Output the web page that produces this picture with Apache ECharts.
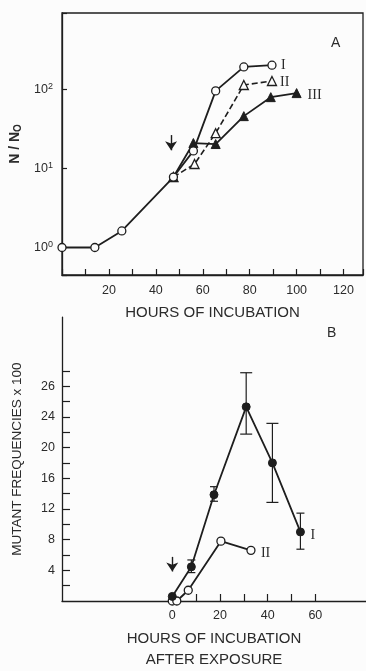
<!DOCTYPE html>
<html><head><meta charset="utf-8">
<script src="https://cdn.jsdelivr.net/npm/echarts@6/dist/echarts.min.js"></script>
<style>html,body{margin:0;padding:0;background:#fcfcfc;} #c{width:366px;height:671px;}</style>
</head><body><div id="c"></div>
<script>
// ---------- Panel A data ----------
const hoursA_I   = [0, 14, 25.5, 47.5, 56, 65.5, 77.5, 89.5];
const ratioA_I   = [1, 1, 1.62, 7.8, 16.7, 96, 193, 203];
const hoursA_II  = [47.5, 56.5, 65.5, 77.5, 89.5];
const ratioA_II  = [7.8, 11.4, 28, 114, 128];
const hoursA_III = [47.5, 56, 65.5, 77.5, 89, 100];
const ratioA_III = [7.8, 21, 20.4, 46, 80, 90];
const xLabelsA = [20, 40, 60, 80, 100, 120];
// ---------- Panel B data ----------
const hoursB_I    = [0, 8, 17.5, 31, 42, 53.75];
const freqB_I     = [0.6, 4.45, 13.85, 25.3, 18, 9.0];
const freqB_I_low = [null, 3.7, 13.0, 21.75, 12.85, 6.75];
const freqB_I_high= [null, 5.35, 14.9, 29.75, 23.15, 11.45];
const hoursB_II   = [0, 1.9, 6.7, 20.4, 33];
const freqB_II    = [0, 0, 1.4, 7.8, 6.6];
const yTickValuesB = [4, 8, 12, 16, 20, 24, 28];
const yTickLabelsB = ['4', '8', '12', '16', '20', '24', '26'];
const yMinorTicksB = [2, 4, 6, 8, 10, 12, 14, 16, 18, 20, 22, 24, 26, 28, 30];
const xTicksB  = [0, 10, 20, 30, 40, 50, 60];
const xLabelsB = [0, 20, 40, 60];

const ink = '#1e1e1e', txt = '#2b2b2b';
const font = 'Liberation Sans, Arial, sans-serif';
const serif = 'Liberation Serif, DejaVu Serif, serif';
const zip = (a, b) => a.map((v, i) => [v, b[i]]);

const errData = hoursB_I.map((x, i) => [x, freqB_I_low[i], freqB_I_high[i]]).filter(d => d[1] != null);

const chart = echarts.init(document.getElementById('c'), null, {renderer: 'canvas'});
chart.setOption({
  backgroundColor: '#fcfcfc',
  animation: false,
  title: [
    {text: 'A', left: 331, top: 36, padding: 0, textStyle: {fontFamily: font, fontSize: 14, fontWeight: 'normal', color: txt}},
    {text: 'B', left: 327, top: 326, padding: 0, textStyle: {fontFamily: font, fontSize: 14, fontWeight: 'normal', color: txt}}
  ],
  grid: [
    {left: 62, top: 13, width: 306, height: 262, show: true, borderColor: ink, borderWidth: 1.3, backgroundColor: 'transparent'},
    {left: 62, top: 317.1, width: 306, height: 291.2}
  ],
  xAxis: [
    {type: 'value', gridIndex: 0, min: 0, max: 306 / 2.385, interval: 10,
     name: 'HOURS OF INCUBATION', nameLocation: 'middle', nameGap: 30,
     nameTextStyle: {fontFamily: font, fontSize: 15, color: txt},
     axisLine: {show: true, onZero: false, lineStyle: {color: ink, width: 1.3}},
     axisTick: {show: true, inside: true, length: 6, lineStyle: {color: ink, width: 1.2}},
     axisLabel: {margin: 9, fontFamily: font, fontSize: 12.5, color: txt,
       formatter: v => xLabelsA.indexOf(Math.round(v)) >= 0 && Math.abs(v - Math.round(v)) < 1e-6 ? String(Math.round(v)) : ''},
     splitLine: {show: false}},
    {type: 'value', gridIndex: 1, min: -46.25, max: 81.25,
     name: 'HOURS OF INCUBATION\nAFTER EXPOSURE', nameLocation: 'middle', nameGap: 27,
     nameTextStyle: {fontFamily: font, fontSize: 15, color: txt, lineHeight: 21},
     axisLine: {show: true, onZero: false, lineStyle: {color: ink, width: 1.3}},
     axisTick: {show: true, inside: true, length: 7, customValues: xTicksB, lineStyle: {color: ink, width: 1.2}},
     axisLabel: {margin: 8, fontFamily: font, fontSize: 12.5, color: txt, customValues: xLabelsB},
     splitLine: {show: false}}
  ],
  yAxis: [
    {type: 'log', gridIndex: 0, logBase: 10, min: 0.449, max: 929,
     name: 'N / N{o|O}', nameLocation: 'middle', nameGap: 35, nameRotate: 90,
     nameTextStyle: {fontFamily: font, fontSize: 14, color: txt, fontWeight: 'bold',
       rich: {o: {fontFamily: font, fontSize: 10, color: txt, fontWeight: 'bold', verticalAlign: 'bottom', padding: [6, 0, 0, 0]}}},
     axisLine: {show: true, onZero: false, lineStyle: {color: ink, width: 1.3}},
     axisTick: {show: true, inside: true, length: 5, lineStyle: {color: ink, width: 1.2}},
     axisLabel: {margin: 9, fontFamily: font, fontSize: 12.5, color: txt,
       formatter: v => { const e = Math.log10(v); return Math.abs(e - Math.round(e)) < 1e-6 ? '10{s|' + Math.round(e) + '}' : ''; },
       rich: {s: {fontFamily: font, fontSize: 9, color: txt, verticalAlign: 'top', padding: [0, 0, 6, 0]}}},
     splitLine: {show: false}},
    {type: 'value', gridIndex: 1, min: 0, max: 37, interval: 2,
     name: 'MUTANT FREQUENCIES x 100', nameLocation: 'middle', nameGap: 38, nameRotate: 90,
     nameTextStyle: {fontFamily: font, fontSize: 13.5, color: txt},
     axisLine: {show: true, onZero: false, lineStyle: {color: ink, width: 1.3}},
     axisTick: {show: true, inside: true, length: 8, customValues: yMinorTicksB, lineStyle: {color: ink, width: 1.2}},
     axisLabel: {margin: 7, fontFamily: font, fontSize: 12.5, color: txt, customValues: yTickValuesB,
       formatter: v => { const i = yTickValuesB.indexOf(Math.round(v)); return i >= 0 ? yTickLabelsB[i] : ''; }},
     splitLine: {show: false}}
  ],
  series: [
    {type: 'line', name: 'II', xAxisIndex: 0, yAxisIndex: 0, data: zip(hoursA_II, ratioA_II),
     symbol: 'triangle', symbolSize: 9, itemStyle: {color: '#fcfcfc', borderColor: ink, borderWidth: 1.3},
     lineStyle: {color: ink, width: 1.6, type: [6, 3]}, z: 3,
     endLabel: {show: true, formatter: 'II', distance: 8, offset: [0, 1], fontFamily: serif, fontSize: 14, color: txt}},
    {type: 'line', name: 'III', xAxisIndex: 0, yAxisIndex: 0, data: zip(hoursA_III, ratioA_III),
     symbol: 'triangle', symbolSize: 9, itemStyle: {color: ink, borderColor: ink, borderWidth: 1},
     lineStyle: {color: ink, width: 1.8}, z: 3,
     endLabel: {show: true, formatter: 'III', distance: 11, offset: [0, 2], fontFamily: serif, fontSize: 14, color: txt}},
    {type: 'line', name: 'I', xAxisIndex: 0, yAxisIndex: 0, data: zip(hoursA_I, ratioA_I),
     symbol: 'circle', symbolSize: 8, itemStyle: {color: '#fcfcfc', borderColor: ink, borderWidth: 1.3},
     lineStyle: {color: ink, width: 1.8}, z: 4,
     endLabel: {show: true, formatter: 'I', distance: 9, offset: [0, 0], fontFamily: serif, fontSize: 14, color: txt},
     markLine: {silent: true, symbol: ['none', 'arrow'], symbolSize: 9, label: {show: false},
       lineStyle: {color: ink, width: 1.4, type: 'solid'},
       data: [[{coord: [46.5, 26.5]}, {coord: [46.5, 17]}]]}},
    {type: 'custom', name: 'err', xAxisIndex: 1, yAxisIndex: 1, data: errData, z: 2,
     renderItem: (params, api) => {
       const x = api.value(0), lo = api.value(1), hi = api.value(2);
       const a = api.coord([x, lo]), b = api.coord([x, hi]);
       const hw = (hi - lo) > 6 ? 6 : 4;
       const st = {stroke: ink, lineWidth: 1.2};
       return {type: 'group', children: [
         {type: 'line', shape: {x1: a[0], y1: a[1], x2: b[0], y2: b[1]}, style: st},
         {type: 'line', shape: {x1: a[0] - hw, y1: a[1], x2: a[0] + hw, y2: a[1]}, style: st},
         {type: 'line', shape: {x1: b[0] - hw, y1: b[1], x2: b[0] + hw, y2: b[1]}, style: st}
       ]};
     }},
    {type: 'line', name: 'B-II', xAxisIndex: 1, yAxisIndex: 1, data: zip(hoursB_II, freqB_II),
     symbol: 'circle', symbolSize: 8, itemStyle: {color: '#fcfcfc', borderColor: ink, borderWidth: 1.3},
     lineStyle: {color: ink, width: 1.8}, z: 3,
     endLabel: {show: true, formatter: 'II', distance: 10, offset: [0, 3], fontFamily: serif, fontSize: 14, color: txt}},
    {type: 'line', name: 'B-I', xAxisIndex: 1, yAxisIndex: 1, data: zip(hoursB_I, freqB_I),
     symbol: 'circle', symbolSize: 8, itemStyle: {color: ink, borderColor: ink, borderWidth: 1},
     lineStyle: {color: ink, width: 1.8}, z: 4,
     endLabel: {show: true, formatter: 'I', distance: 10, offset: [0, 3], fontFamily: serif, fontSize: 14, color: txt},
     markLine: {silent: true, symbol: ['none', 'arrow'], symbolSize: 9, label: {show: false},
       lineStyle: {color: ink, width: 1.4, type: 'solid'},
       data: [[{coord: [0, 5.75]}, {coord: [0, 3.85]}]]}}
  ]
});
</script>
</body></html>
